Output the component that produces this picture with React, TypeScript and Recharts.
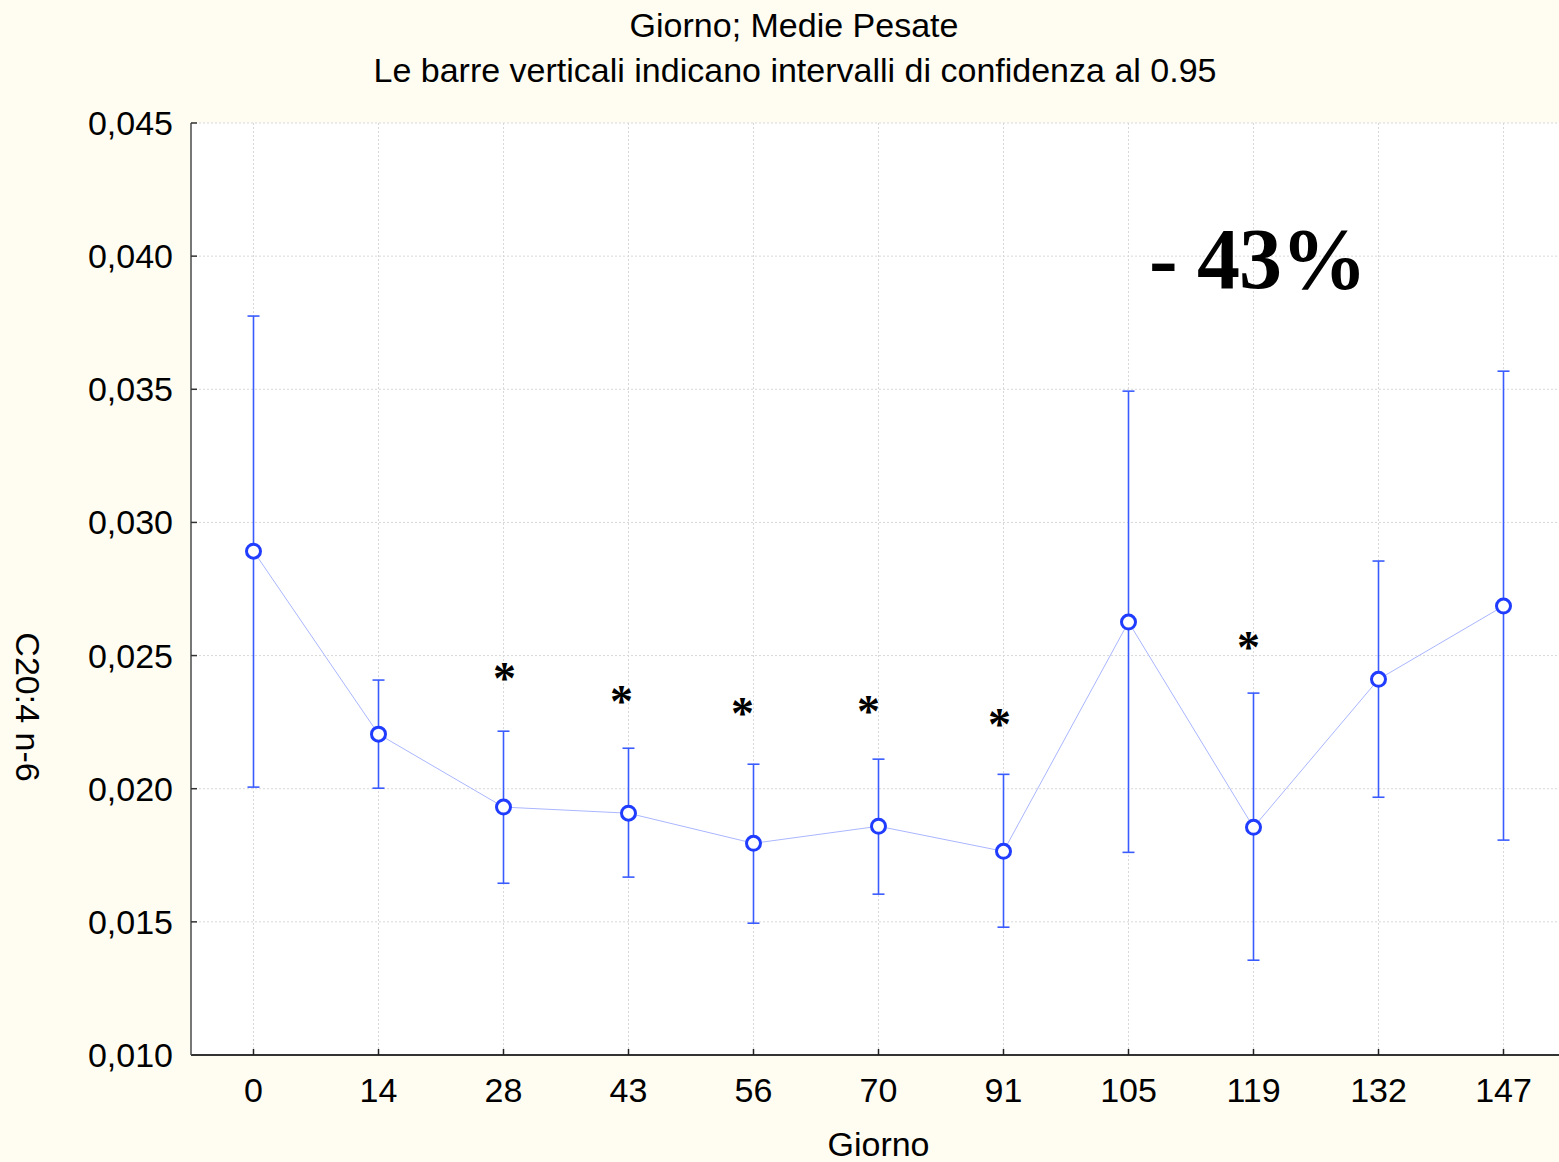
import React from 'react';
import {
  ComposedChart,
  Line,
  XAxis,
  YAxis,
  CartesianGrid,
  ErrorBar,
  ReferenceDot,
} from 'recharts';

// weighted means of C20:4 n-6 per sampling day, with 95% confidence limits
const days = ['0', '14', '28', '43', '56', '70', '91', '105', '119', '132', '147'];
const means = [0.02892, 0.02205, 0.01931, 0.01908, 0.01795, 0.01859, 0.01765, 0.02626, 0.01855, 0.02411, 0.02686];
const ciHigh = [0.03775, 0.02408, 0.02216, 0.02152, 0.02092, 0.02111, 0.02054, 0.03493, 0.02359, 0.02855, 0.03568];
const ciLow = [0.02006, 0.02002, 0.01645, 0.01668, 0.01495, 0.01604, 0.0148, 0.01761, 0.01356, 0.01968, 0.01807];

// significance marks above some days
const starDays = ['28', '43', '56', '70', '91', '119'];
const starLevels = [0.02438, 0.02351, 0.02306, 0.02314, 0.02265, 0.02554];

const yTicks = [0.01, 0.015, 0.02, 0.025, 0.03, 0.035, 0.04, 0.045];

const dropLabel = '- 43%';
const dropLevel = 0.0388;

// horizontal nudge of each star (px), they sit a little left of the day
const starNudge = [1, -7, -11, -10, -4, -5];

const SANS = '"Liberation Sans", Arial, sans-serif';
const SERIF = '"Liberation Serif", "Times New Roman", serif';

const data = days.map((day, i) => ({
  day,
  mean: means[i],
  ci: [means[i] - ciLow[i], ciHigh[i] - means[i]],
}));

const fmt = (v: number) => v.toFixed(3).replace('.', ',');

const textLine = { position: 'absolute' as const, left: 0, textAlign: 'center' as const, fontSize: 34, lineHeight: '34px' };

export default function App() {
  return (
    <div
      style={{
        position: 'absolute',
        left: 0,
        top: 0,
        width: 1559,
        height: 1162,
        overflow: 'hidden',
        background: '#fffcf2',
        fontFamily: SANS,
        color: '#000',
      }}
    >
      <div style={{ ...textLine, width: 1588, top: 8 }}>Giorno; Medie Pesate</div>
      <div style={{ ...textLine, width: 1590, top: 53 }}>
        Le barre verticali indicano intervalli di confidenza al 0.95
      </div>
      <div
        style={{
          position: 'absolute',
          left: 28,
          top: 707,
          fontSize: 34,
          lineHeight: '34px',
          whiteSpace: 'nowrap',
          transform: 'translate(-50%, -50%) rotate(90deg)',
        }}
      >
        C20:4 n-6
      </div>
      <div style={{ ...textLine, width: 1757, top: 1127 }}>Giorno</div>

      <div style={{ position: 'absolute', left: 0, top: 0 }}>
        <ComposedChart
          width={1566}
          height={1162}
          data={data}
          margin={{ top: 123, right: 0, bottom: 47, left: 91 }}
        >
          <CartesianGrid fill="#ffffff" stroke="#d8d8d8" strokeDasharray="2 2" />
          <XAxis
            dataKey="day"
            type="category"
            scale="band"
            height={60}
            axisLine={{ stroke: '#333', strokeWidth: 2 }}
            tickLine={{ stroke: '#222', strokeWidth: 1.5 }}
            tickSize={-6}
            tickMargin={29}
            tick={{ fill: '#000', fontSize: 34, fontFamily: SANS }}
            interval={0}
          />
          <XAxis
            xAxisId="top"
            orientation="top"
            dataKey="day"
            type="category"
            scale="band"
            height={0}
            axisLine={{ stroke: '#333', strokeWidth: 2 }}
            tickLine={{ stroke: '#222', strokeWidth: 1.5 }}
            tickSize={-6}
            tickFormatter={() => ''}
            interval={0}
          />
          <YAxis
            type="number"
            domain={[0.01, 0.045]}
            ticks={yTicks}
            allowDataOverflow
            width={100}
            axisLine={{ stroke: '#777', strokeWidth: 2 }}
            tickLine={{ stroke: '#333', strokeWidth: 1.5 }}
            tickSize={-6}
            tickMargin={24}
            tickFormatter={fmt}
            tick={{ fill: '#000', fontSize: 34, fontFamily: SANS }}
          />
          <Line
            dataKey="mean"
            stroke="#aab6ff"
            strokeWidth={1}
            isAnimationActive={false}
            dot={{ r: 7, stroke: '#1f3cff', strokeWidth: 3, fill: '#ffffff' }}
            activeDot={false}
          >
            <ErrorBar dataKey="ci" direction="y" width={6} stroke="#3a5cff" strokeWidth={1.6} />
          </Line>
          {starDays.map((d, i) => (
            <ReferenceDot
              key={d}
              x={d}
              y={starLevels[i]}
              r={0}
              shape={(p: any) => (
                <text
                  x={p.cx + starNudge[i]}
                  y={p.cy + 22}
                  textAnchor="middle"
                  fontFamily={SERIF}
                  fontWeight="bold"
                  fontSize={46}
                  fill="#000"
                >
                  *
                </text>
              )}
            />
          ))}
          <ReferenceDot
            x="119"
            y={dropLevel}
            r={0}
            shape={(p: any) => (
              <text
                x={p.cx + 4}
                y={p.cy}
                textAnchor="middle"
                fontFamily={SERIF}
                fontWeight="bold"
                fontSize={86}
                letterSpacing={-1}
                fill="#000"
              >
                {dropLabel}
              </text>
            )}
          />
        </ComposedChart>
      </div>
    </div>
  );
}
